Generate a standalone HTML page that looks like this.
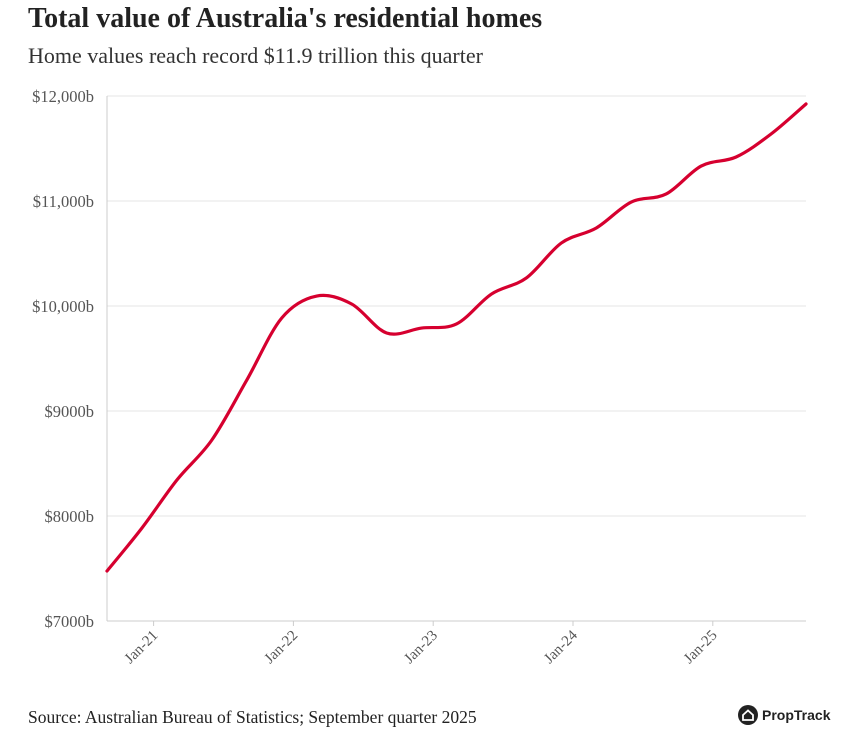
<!DOCTYPE html>
<html><head><meta charset="utf-8">
<style>
body{margin:0;background:#fff;width:845px;height:731px;overflow:hidden;font-family:"Liberation Serif",serif;}
#title{position:absolute;left:28px;top:3px;font-size:28px;font-weight:bold;color:#222;}
#sub{position:absolute;left:28px;top:43px;font-size:22px;color:#333;}
#src{position:absolute;left:28px;top:707px;font-size:17.5px;color:#222;}
#logo{position:absolute;left:738px;top:705px;font-family:"Liberation Sans",sans-serif;font-size:14px;font-weight:bold;color:#222;display:flex;align-items:center;gap:4px;}
</style></head><body>
<div id="title">Total value of Australia's residential homes</div>
<div id="sub">Home values reach record $11.9 trillion this quarter</div>
<svg id="chart" width="845" height="731" style="position:absolute;left:0;top:0"></svg>
<div id="src">Source: Australian Bureau of Statistics; September quarter 2025</div>
<div id="logo"><svg width="20" height="20" viewBox="0 0 20 20"><circle cx="10" cy="10" r="10" fill="#222"/><path d="M5 10 L10 5.5 L15 10 V15 H5 Z" fill="none" stroke="#fff" stroke-width="1.8"/></svg>PropTrack</div>
<script>
const quarters=["Sep-20","Dec-20","Mar-21","Jun-21","Sep-21","Dec-21","Mar-22","Jun-22","Sep-22","Dec-22","Mar-23","Jun-23","Sep-23","Dec-23","Mar-24","Jun-24","Sep-24","Dec-24","Mar-25","Jun-25","Sep-25"];
const values=[7476,7886,8343,8724,9295,9886,10095,10019,9743,9790,9829,10114,10267,10600,10743,10990,11067,11333,11419,11638,11924];
const yTicks=[7000,8000,9000,10000,11000,12000];
const yTickLabels=["$7000b","$8000b","$9000b","$10,000b","$11,000b","$12,000b"];
const xTickLabels=["Jan-21","Jan-22","Jan-23","Jan-24","Jan-25"];
const xTickMonths=[4,16,28,40,52]; // months after Sep-20

const svg=document.getElementById('chart');
const NS='http://www.w3.org/2000/svg';
const X0=107,X1=806,Y0=621,Y1=96;
const months=(quarters.length-1)*3;
const xm=m=>X0+(X1-X0)*m/months;
const xi=i=>xm(i*3);
const y=v=>Y0-(v-7000)/(12000-7000)*(Y0-Y1);
function mk(t,a){const e=document.createElementNS(NS,t);for(const k in a)e.setAttribute(k,a[k]);svg.appendChild(e);return e;}
yTicks.forEach((t,i)=>{
 const g=mk('line',{x1:X0,x2:X1,y1:y(t),y2:y(t),stroke:'#e6e6e6','stroke-width':1});
 
 
 const l=mk('text',{x:94,y:y(t)+6,'text-anchor':'end','font-size':16.5,fill:'#555','font-family':'Liberation Serif, serif'});
 l.textContent=yTickLabels[i];
 
 
});
const ax=mk('line',{x1:X0,x2:X0,y1:Y1,y2:Y0,stroke:'#ccc'});


const bx=mk('line',{x1:X0,x2:X1,y1:Y0,y2:Y0,stroke:'#ccc'});


xTickMonths.forEach((m,i)=>{
 const x=xm(m);
 const tk=mk('line',{x1:x,x2:x,y1:Y0,y2:Y0+5,stroke:'#ccc'});
 
 
 const l=mk('text',{x:x+5,y:Y0+15,'text-anchor':'end','font-size':15,fill:'#555','font-family':'Liberation Serif, serif',transform:`rotate(-45 ${x+5} ${Y0+15})`});
 l.textContent=xTickLabels[i];
 
 
});
const P=values.map((v,i)=>[xi(i),y(v)]);
let d=`M${P[0][0]},${P[0][1]}`;
for(let i=0;i<P.length-1;i++){
 const p0=P[Math.max(0,i-1)],p1=P[i],p2=P[i+1],p3=P[Math.min(P.length-1,i+2)];
 const c1=[p1[0]+(p2[0]-p0[0])/6,p1[1]+(p2[1]-p0[1])/6];
 const c2=[p2[0]-(p3[0]-p1[0])/6,p2[1]-(p3[1]-p1[1])/6];
 d+=` C${c1[0]},${c1[1]} ${c2[0]},${c2[1]} ${p2[0]},${p2[1]}`;
}
const line=mk('path',{d:d,fill:'none',stroke:'#d6002f','stroke-width':3.2,'stroke-linejoin':'round','stroke-linecap':'round'});


</script>
</body></html>
